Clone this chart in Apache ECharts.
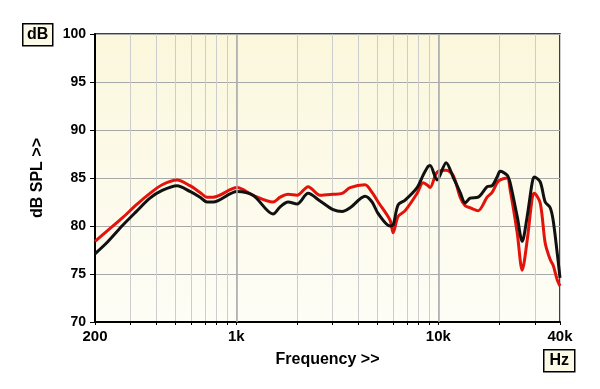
<!DOCTYPE html>
<html>
<head>
<meta charset="utf-8">
<script src="https://cdn.jsdelivr.net/npm/echarts@6/dist/echarts.min.js"></script>
<style>
  html, body { margin: 0; padding: 0; background: #fff; }
  #chart { width: 600px; height: 389px; }
</style>
</head>
<body>
<div id="chart"></div>
<script>
// frequency points (Hz) and the two measured responses (dB SPL)
const freqs = [200, 230, 275, 320, 374, 430, 509, 590, 662, 717, 768, 1009, 1211, 1521, 1650, 1804,
    2000, 2268, 2600, 3016, 3340, 3660, 4340, 4700, 5036, 5770, 5975, 6325, 6850, 7850, 8410, 8900,
    9100, 9860, 10930, 11830, 12820, 13580, 14360, 15740, 17440, 18460, 19540, 20240, 21900, 22670,
    24560, 26000, 27520, 29130, 29800, 31920, 33800, 35770, 37000, 38740, 40000];
const redVals = [78.4, 79.5, 80.9, 82.2, 83.4, 84.3, 84.8, 84.2, 83.5, 83.0, 83.0, 84.0, 83.2, 82.5, 83.0, 83.3,
    83.2, 84.1, 83.2, 83.3, 83.4, 84.0, 84.3, 83.5, 82.5, 80.6, 79.3, 81.0, 81.6, 83.4, 84.5, 84.2,
    84.0, 85.6, 85.8, 85.3, 83.0, 82.1, 81.9, 81.6, 83.0, 83.5, 84.5, 84.8, 85.0, 83.75,
    79.3, 75.4, 78.5, 82.9, 83.4, 82.4, 78.2, 76.5, 75.9, 74.4, 73.75];
const blackVals = [77.1, 78.3, 80.1, 81.5, 82.9, 83.7, 84.2, 83.6, 83.0, 82.5, 82.5, 83.6, 83.2, 81.25, 82.0, 82.5,
    82.3, 83.4, 82.6, 81.7, 81.5, 81.9, 83.1, 82.5, 81.3, 80.0, 80.1, 82.2, 82.7, 84.0, 85.3, 86.2,
    86.3, 84.8, 86.6, 85.1, 83.5, 82.4, 82.9, 83.0, 84.1, 84.2, 85.1, 85.7, 85.3, 84.5,
    81.0, 78.4, 81.0, 84.5, 85.1, 84.6, 82.5, 81.9, 80.6, 77.2, 74.6];

const gridFreqs = [200, 300, 400, 500, 600, 700, 800, 900, 1000, 2000, 3000, 4000, 5000, 6000,
    7000, 8000, 9000, 10000, 20000, 30000, 40000];
const labelFreqs = [200, 1000, 10000, 40000];
const decadeLines = [1000, 10000];

const fontBold = { fontFamily: 'Liberation Sans, Arial, sans-serif', fontWeight: 'bold', color: '#000' };

const toPairs = (vals) => freqs.map((f, i) => [f, vals[i]]);

const fmtHz = (v) => {
    if (v >= 1000) {
        return Math.round(v / 1000) + 'k';
    }
    return String(Math.round(v));
};

const plotBg = new echarts.graphic.LinearGradient(0, 0, 0, 1, [
    { offset: 0, color: '#fbf7dc' },
    { offset: 1, color: '#fefdf6' }
]);

const option = {
    backgroundColor: '#fff',
    animation: false,
    grid: {
        left: 95,
        right: 40,
        top: 34,
        bottom: 67,
        show: true,
        backgroundColor: plotBg,
        borderColor: '#000',
        borderWidth: 1.5
    },
    xAxis: {
        type: 'log',
        logBase: 10,
        min: 200,
        max: 40000,
        name: 'Frequency >>',
        nameLocation: 'middle',
        nameGap: 30,
        nameTextStyle: { ...fontBold, fontSize: 16 },
        axisLine: { show: true, onZero: false, lineStyle: { color: '#000', width: 2 } },
        axisTick: {
            show: true,
            length: 3,
            customValues: gridFreqs,
            lineStyle: { color: '#000', width: 1 }
        },
        minorTick: { show: false },
        splitLine: { show: true, lineStyle: { color: '#cdcdcd', width: 1 } },
        axisLabel: {
            ...fontBold,
            fontSize: 15,
            margin: 7,
            customValues: labelFreqs,
            formatter: fmtHz
        }
    },
    yAxis: {
        type: 'value',
        min: 70,
        max: 100,
        interval: 5,
        name: 'dB SPL >>',
        nameLocation: 'middle',
        nameGap: 49,
        nameRotate: 90,
        nameTextStyle: { ...fontBold, fontSize: 16 },
        axisLine: { show: true, lineStyle: { color: '#000', width: 2 } },
        axisTick: { show: true, length: 5, lineStyle: { color: '#000', width: 1 } },
        splitLine: { show: true, lineStyle: { color: '#a8a8a8', width: 1 } },
        axisLabel: { ...fontBold, fontSize: 14, margin: 9 }
    },
    graphic: [
        {
            type: 'group',
            left: 22,
            top: 23,
            children: [
                { type: 'rect', shape: { x: 0, y: 0, width: 30, height: 22 }, style: { fill: '#fcfae6', stroke: '#000', lineWidth: 1.5 } },
                { type: 'text', x: 15, y: 11, style: { text: 'dB', ...fontBold, fill: '#000', fontSize: 16, align: 'center', verticalAlign: 'middle' } }
            ]
        },
        {
            type: 'group',
            left: 543,
            top: 349,
            children: [
                { type: 'rect', shape: { x: 0, y: 0, width: 31, height: 22 }, style: { fill: '#fcfae6', stroke: '#000', lineWidth: 1.5 } },
                { type: 'text', x: 15.5, y: 11, style: { text: 'Hz', ...fontBold, fill: '#000', fontSize: 16, align: 'center', verticalAlign: 'middle' } }
            ]
        }
    ],
    series: [
        {
            type: 'line',
            name: 'red',
            data: toPairs(redVals),
            smooth: 0.3,
            showSymbol: false,
            lineStyle: { color: '#e3120b', width: 3 },
            z: 3,
            markLine: {
                silent: true,
                symbol: 'none',
                label: { show: false },
                lineStyle: { color: '#a8a8a8', width: 1.5, type: 'solid' },
                data: decadeLines.map(v => ({ xAxis: v }))
            }
        },
        {
            type: 'line',
            name: 'black',
            data: toPairs(blackVals),
            smooth: 0.3,
            showSymbol: false,
            lineStyle: { color: '#111', width: 3 },
            z: 4
        }
    ]
};

const myChart = echarts.init(document.getElementById('chart'));
myChart.setOption(option);
</script>
</body>
</html>
